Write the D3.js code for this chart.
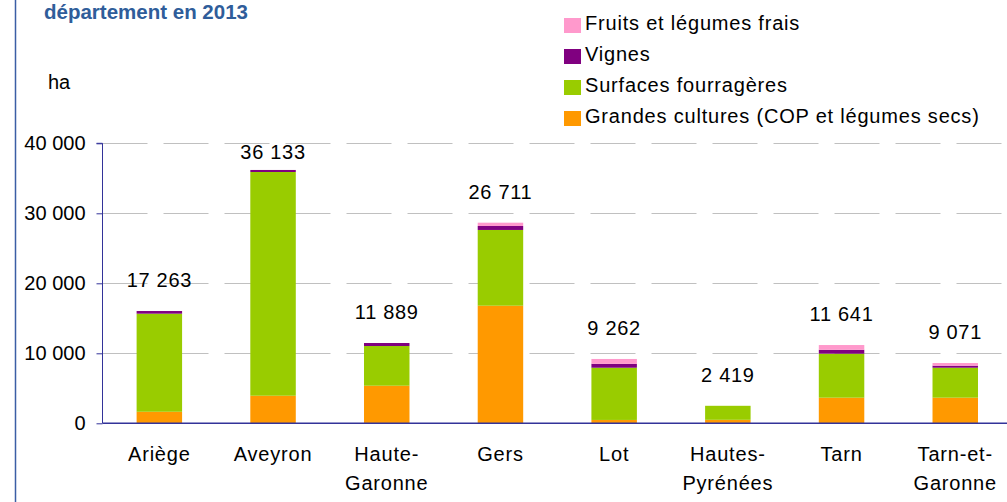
<!DOCTYPE html>
<html>
<head>
<meta charset="utf-8">
<script src="https://cdn.jsdelivr.net/npm/d3@7"></script>
<style>
  body { margin: 0; background: #fff; }
  svg { display: block; font-family: "Liberation Sans", Arial, sans-serif; }
</style>
</head>
<body>
<svg id="chart" width="1007" height="502"></svg>
<script>
var departements = ["Ariège", "Aveyron", "Haute-\nGaronne", "Gers", "Lot", "Hautes-\nPyrénées", "Tarn", "Tarn-et-\nGaronne"];
var grandesCultures = [1650, 3940, 5370, 16800, 480, 500, 3660, 3660];
var fourrageres = [14010, 31960, 5670, 10820, 7460, 2000, 6280, 4280];
var vignes = [380, 290, 430, 570, 560, 0, 560, 290];
var fruitsLegumes = [0, 0, 0, 470, 690, 0, 680, 380];
var totaux = ["17 263", "36 133", "11 889", "26 711", "9 262", "2 419", "11 641", "9 071"];
var yTicks = [0, 10000, 20000, 30000, 40000];
var seriesNames = ["Fruits et légumes frais", "Vignes", "Surfaces fourragères", "Grandes cultures (COP et légumes secs)"];

var colors = {
    "Grandes cultures (COP et légumes secs)": "#ff9900",
    "Surfaces fourragères": "#99cc00",
    "Vignes": "#800080",
    "Fruits et légumes frais": "#ff99cc"
};

var svg = d3.select("#chart"),
    plotLeft = 102.5,
    plotTop = 143.3,
    plotBottom = 423.3,
    step = 113.7;

var rows = departements.map(function (d, i) {
    return {
        dep: d,
        "Grandes cultures (COP et légumes secs)": grandesCultures[i],
        "Surfaces fourragères": fourrageres[i],
        "Vignes": vignes[i],
        "Fruits et légumes frais": fruitsLegumes[i]
    };
});

var keys = seriesNames.slice().reverse();
var stacked = d3.stack().keys(keys)(rows);

var x = d3.scaleBand()
    .domain(departements)
    .range([plotLeft, plotLeft + step * departements.length])
    .paddingInner(0.6)
    .paddingOuter(0.3);

var y = d3.scaleLinear().domain([0, 40000]).range([plotBottom, plotTop]);

// outer frame line on the left
svg.append("line")
    .attr("x1", 15.5).attr("x2", 15.5)
    .attr("y1", 0).attr("y2", 502)
    .attr("stroke", "#3b5ea5")
    .attr("stroke-width", 1.5);

svg.append("text")
    .attr("x", 44).attr("y", 19)
    .attr("font-size", 20.5)
    .attr("font-weight", "bold")
    .attr("fill", "#2f5d9a")
    .text("département en 2013");

svg.append("text")
    .attr("x", 48).attr("y", 89)
    .attr("font-size", 20)
    .attr("fill", "#000")
    .text("ha");

// grid
svg.append("g").selectAll("line")
    .data(yTicks.filter(function (t) { return t > 0; }))
    .join("line")
    .attr("x1", plotLeft).attr("x2", 1007)
    .attr("y1", function (d) { return Math.round(y(d)) + 0.5; })
    .attr("y2", function (d) { return Math.round(y(d)) + 0.5; })
    .attr("stroke", "#c0c0c0")
    .attr("stroke-dasharray", "45,16");

// bars
svg.append("g").selectAll("g")
    .data(stacked)
    .join("g")
    .attr("fill", function (s) { return colors[s.key]; })
    .selectAll("rect")
    .data(function (s) { return s; })
    .join("rect")
    .attr("x", function (d) { return x(d.data.dep); })
    .attr("width", x.bandwidth())
    .attr("y", function (d) { return y(d[1]); })
    .attr("height", function (d) { return y(d[0]) - y(d[1]); });

// total labels
var topStack = stacked[stacked.length - 1];
svg.append("g").selectAll("text")
    .data(topStack)
    .join("text")
    .attr("x", function (d) { return x(d.data.dep) + x.bandwidth() / 2; })
    .attr("y", function (d) { return Math.max(y(d[1]) - 24, 159); })
    .attr("text-anchor", "middle")
    .attr("font-size", 20)
    .attr("letter-spacing", 0.7)
    .attr("fill", "#000")
    .text(function (d, i) { return totaux[i]; });

// y axis
var yAxis = svg.append("g")
    .attr("transform", "translate(" + plotLeft + ",0)")
    .call(d3.axisLeft(y).tickValues(yTicks).tickSize(6).tickPadding(11)
        .tickFormat(function (d) { return d3.format(",")(d).replace(/,/g, " "); }));
yAxis.select(".domain").attr("stroke", "#333399").attr("d", "M-6," + y(40000) + "H0V" + plotBottom);
yAxis.selectAll(".tick line").attr("stroke", "#333399");
yAxis.selectAll(".tick text")
    .attr("font-size", 20)
    .attr("fill", "#000")
    .attr("font-family", "Liberation Sans, Arial, sans-serif");

// x axis baseline
svg.append("line")
    .attr("x1", plotLeft).attr("x2", 1007)
    .attr("y1", plotBottom).attr("y2", plotBottom)
    .attr("stroke", "#333399")
    .attr("stroke-width", 1.5);

// x labels
svg.append("g").selectAll("text")
    .data(departements)
    .join("text")
    .attr("x", function (d) { return x(d) + x.bandwidth() / 2; })
    .attr("y", 461)
    .attr("text-anchor", "middle")
    .attr("font-size", 20)
    .attr("letter-spacing", 0.8)
    .attr("fill", "#000")
    .each(function (d) {
        var parts = d.split("\n"), t = d3.select(this);
        parts.forEach(function (p, k) {
            t.append("tspan")
                .attr("x", x(d) + x.bandwidth() / 2)
                .attr("dy", k === 0 ? 0 : 29)
                .text(p);
        });
    });

// legend
var legend = svg.append("g").selectAll("g")
    .data(seriesNames)
    .join("g")
    .attr("transform", function (d, i) { return "translate(564," + (18 + i * 31) + ")"; });

legend.append("rect")
    .attr("width", 17).attr("height", 15)
    .attr("fill", function (d) { return colors[d]; });

legend.append("text")
    .attr("x", 21).attr("y", 11.5)
    .attr("font-size", 20)
    .attr("letter-spacing", 0.8)
    .attr("fill", "#000")
    .text(function (d) { return d; });
</script>
</body>
</html>
